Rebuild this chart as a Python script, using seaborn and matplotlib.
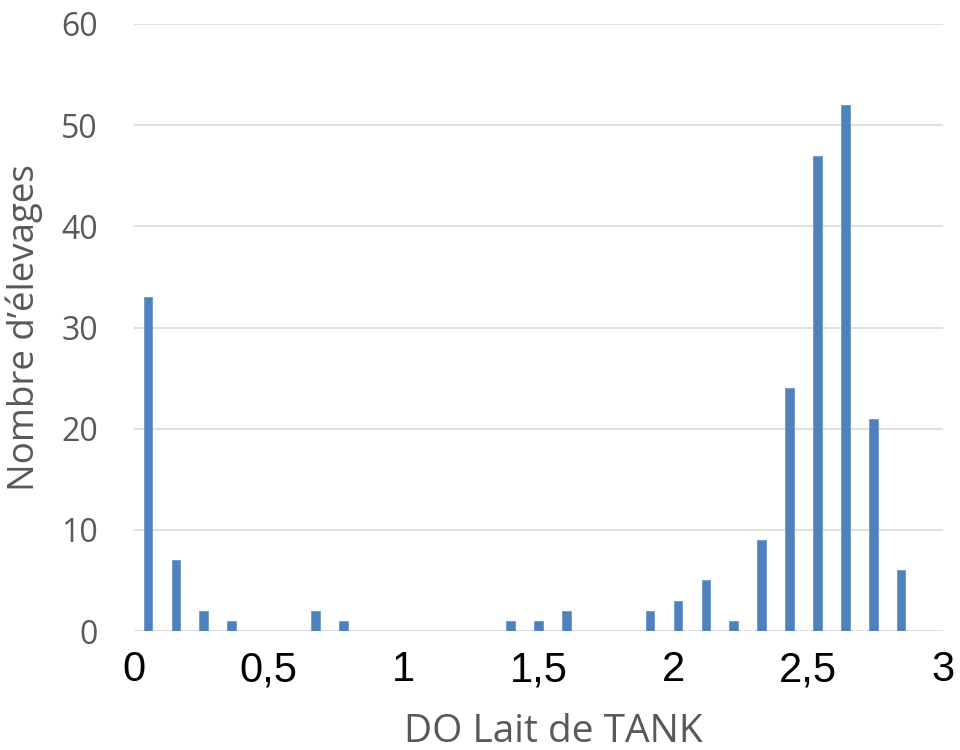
import numpy as np
import pandas as pd
import matplotlib
matplotlib.use("Agg")
import matplotlib.pyplot as plt
import seaborn as sns

# Histogram of tank-milk optical density: 29 classes between 0 and 3
n_classes = 29
do_range = (0, 3)
counts = [33, 7, 2, 1, 0, 0, 2, 1, 0, 0,
          0, 0, 0, 1, 1, 2, 0, 0, 2, 3,
          5, 1, 9, 24, 47, 52, 21, 6, 0]
x_ticks = [0, 0.5, 1, 1.5, 2, 2.5, 3]
x_tick_labels = ["0", "0,5", "1", "1,5", "2", "2,5", "3"]
y_ticks = [0, 10, 20, 30, 40, 50, 60]

edges = np.linspace(do_range[0], do_range[1], n_classes + 1)
centers = (edges[:-1] + edges[1:]) / 2
df = pd.DataFrame({"do": centers, "n": counts})

sns.set_theme(style="white")
plt.rcParams["font.family"] = ["Open Sans", "DejaVu Sans"]

fig = plt.figure(figsize=(9.6, 7.5), dpi=100)
ax = fig.add_axes([134 / 960, 119 / 750, 809 / 960, 607 / 750])

sns.histplot(data=df, x="do", weights="n", bins=n_classes, binrange=do_range,
             shrink=0.31, color="#4F81BD", alpha=1, edgecolor="#6F97CB",
             linewidth=0.6, ax=ax, zorder=3)

ax.set_xlim(*do_range)
ax.set_ylim(0, 60)
ax.set_yticks(y_ticks)
ax.set_xticks(x_ticks)
ax.set_xticklabels(x_tick_labels, fontfamily="Liberation Sans",
                   fontsize=30, color="black")
ax.tick_params(axis="x", length=0, pad=14)
ax.tick_params(axis="y", length=0, pad=26, labelsize=23, labelcolor="#595959")

ax.grid(axis="y", color="#D9D9D9", linewidth=1.2, zorder=0)
ax.grid(axis="x", visible=False)
for s in ax.spines.values():
    s.set_visible(False)

ax.set_xlabel("DO Lait de TANK", fontsize=28, color="#595959")
ax.set_ylabel("Nombre d\u2019élevages", fontsize=26.5, color="#595959")
ax.xaxis.set_label_coords(0.518, -0.135)
ax.yaxis.set_label_coords(-0.112, 0.5)

fig.savefig("out.png", dpi=100)
